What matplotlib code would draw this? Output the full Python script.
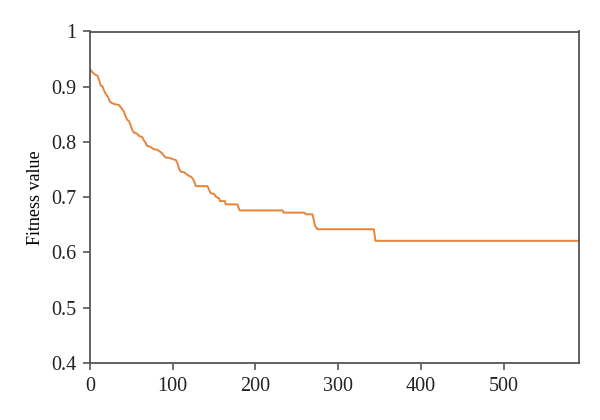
import matplotlib.pyplot as plt

plt.rcParams['font.family'] = ['Liberation Serif', 'DejaVu Serif']

# iteration / fitness values
iters = [0, 3, 6, 9, 11, 13, 15, 17, 19, 22, 24, 27, 31, 35, 38, 41, 43, 45,
         47, 49, 51, 53, 57, 59, 63, 65, 67, 69, 73, 77, 81, 83, 87, 91, 96,
         100, 104, 106, 108, 110, 114, 118, 122, 124, 126, 128, 142, 144, 146,
         150, 152, 156, 157, 163, 164, 178, 181, 233, 234, 259, 261, 269, 272,
         275, 343, 345, 590]
fitness = [0.932, 0.926, 0.922, 0.920, 0.912, 0.902, 0.901, 0.893, 0.887,
           0.881, 0.873, 0.870, 0.868, 0.867, 0.861, 0.855, 0.846, 0.840,
           0.838, 0.831, 0.822, 0.817, 0.815, 0.811, 0.809, 0.803, 0.799,
           0.793, 0.791, 0.787, 0.786, 0.784, 0.780, 0.772, 0.771, 0.769,
           0.767, 0.760, 0.750, 0.746, 0.745, 0.740, 0.737, 0.734, 0.728,
           0.720, 0.720, 0.713, 0.707, 0.706, 0.701, 0.698, 0.693, 0.693,
           0.687, 0.687, 0.676, 0.676, 0.672, 0.672, 0.669, 0.669, 0.648,
           0.642, 0.642, 0.621, 0.621]

xticks = [0, 100, 200, 300, 400, 500]
yticks = [0.4, 0.5, 0.6, 0.7, 0.8, 0.9, 1.0]
ytick_labels = ['0.4', '0.5', '0.6', '0.7', '0.8', '0.9', '1']

fig = plt.figure(figsize=(6, 4.2), dpi=100)
ax = fig.add_axes([0.15, 0.136, 0.815, 0.789])

ax.plot(iters, fitness, color='#E8833A', lw=1.4)

ax.set_xlim(0, 591)
ax.set_ylim(0.4, 1.0)
ax.set_xticks(xticks)
ax.set_yticks(yticks)
ax.set_yticklabels(ytick_labels)
ax.set_ylabel('Fitness value', fontsize=13, labelpad=5)

for s in ax.spines.values():
    s.set_color('#555555')
    s.set_linewidth(1.3)
ax.tick_params(direction='out', length=5, width=1.2, color='#555555',
               labelsize=14.5, labelcolor='#222222', pad=5)

fig.savefig('out.png', dpi=100)
